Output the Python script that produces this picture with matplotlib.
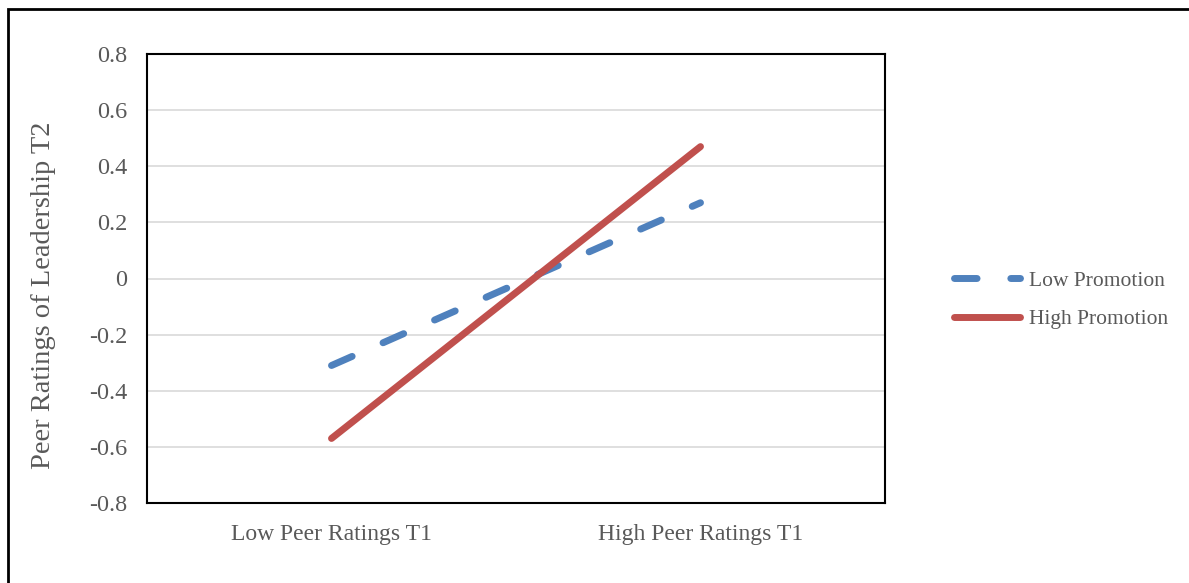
import matplotlib.pyplot as plt
import matplotlib.patches as patches

categories = ["Low Peer Ratings T1", "High Peer Ratings T1"]
low_promotion = [-0.31, 0.27]
high_promotion = [-0.57, 0.47]
yticks = [-0.8, -0.6, -0.4, -0.2, 0, 0.2, 0.4, 0.6, 0.8]
ytick_labels = ["-0.8", "-0.6", "-0.4", "-0.2", "0", "0.2", "0.4", "0.6", "0.8"]

plt.rcParams['font.family'] = ['Liberation Serif', 'DejaVu Serif']
grey = "#595959"

fig = plt.figure(figsize=(11.89, 5.83), dpi=100)
ax = fig.add_axes([147 / 1189, 1 - 503 / 583, 738 / 1189, 449 / 583])

x = [0, 1]
ax.plot(x, low_promotion, color="#4F81BD", linewidth=5, dashes=(3.25, 4.86),
        dash_capstyle="round", solid_capstyle="round", label="Low Promotion", zorder=3)
ax.plot(x, high_promotion, color="#C0504D", linewidth=5,
        solid_capstyle="round", label="High Promotion", zorder=3)

ax.set_xlim(-0.5, 1.5)
ax.set_ylim(-0.8, 0.8)
ax.set_xticks(x)
ax.set_xticklabels(categories, fontsize=17, color=grey)
ax.set_yticks(yticks)
ax.set_yticklabels(ytick_labels, fontsize=17.5, color=grey)
ax.tick_params(axis="y", length=0, pad=14)
ax.tick_params(axis="x", length=0, pad=15)
ax.grid(axis="y", color="#D9D9D9", linewidth=1.2)
ax.set_axisbelow(True)
for s in ax.spines.values():
    s.set_color("black")
    s.set_linewidth(1.5)

ax.set_ylabel("Peer Ratings of Leadership T2", fontsize=20.5, color=grey, labelpad=24, y=0.463)

leg = fig.legend(loc="center left", bbox_to_anchor=(935 / 1189, 1 - 300 / 583),
                 frameon=False, fontsize=15.5, handlelength=3.07, handletextpad=0.38,
                 labelspacing=0.85)
for t in leg.get_texts():
    t.set_color(grey)

fig.patches.append(patches.Rectangle((8 / 1189, -0.05), 1.1, 1 - 9 / 583 + 0.05,
                                     transform=fig.transFigure, fill=False,
                                     edgecolor="black", linewidth=2))

fig.savefig("out.png", dpi=100)
